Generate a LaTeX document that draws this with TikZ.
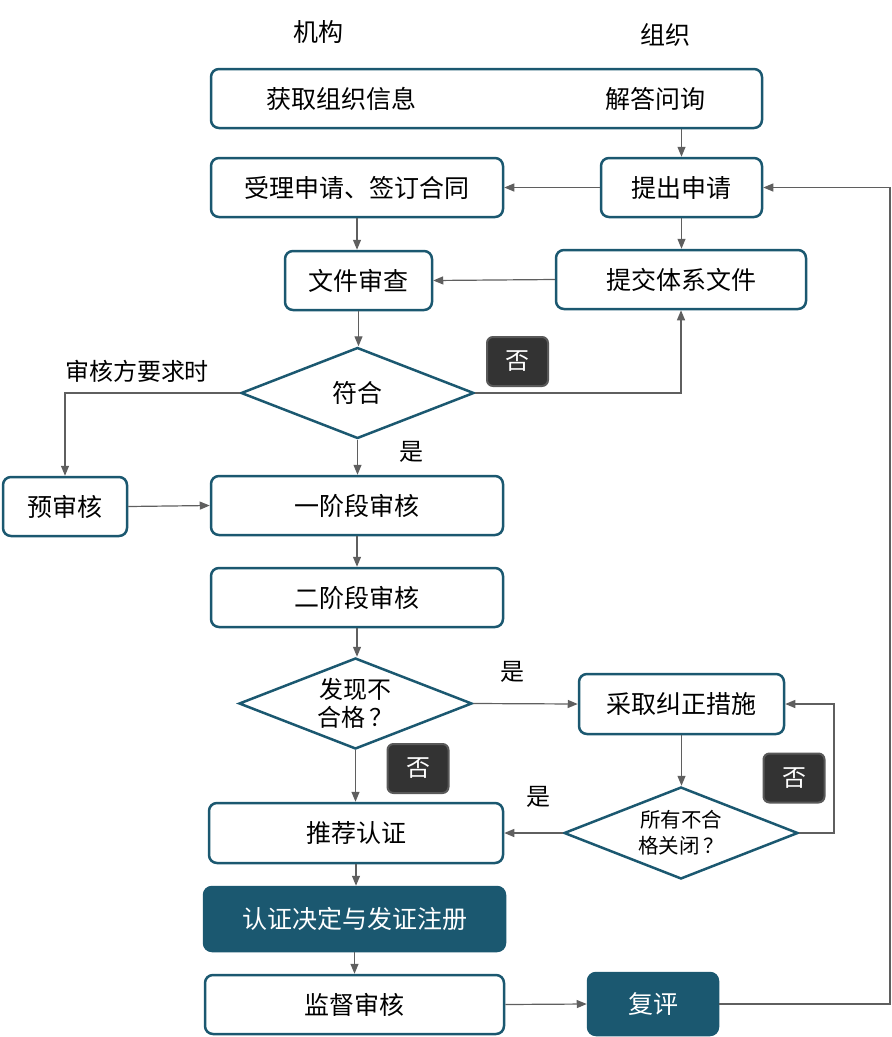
\documentclass[tikz,border=0pt]{standalone}
\usepackage{fontspec}
\setmainfont{Noto Sans CJK SC}
\usetikzlibrary{shapes.geometric,arrows.meta}
\definecolor{bd}{HTML}{1B5870}
\definecolor{ln}{HTML}{5F5F5F}
\definecolor{bgdark}{HTML}{333333}
\definecolor{bgedge}{HTML}{595959}
\begin{document}
\begin{tikzpicture}[x=1pt,y=-1pt,
  box/.style={draw=bd, line width=2.5pt, rounded corners=8pt, fill=white, inner sep=0pt, font=\fontsize{25}{29}\selectfont},
  dbox/.style={box, fill=bd, text=white},
  dia/.style={diamond, shape aspect=2.5, draw=bd, line width=2.5pt, fill=white, inner sep=0pt, align=center, font=\fontsize{25}{29}\selectfont},
  badge/.style={draw=bgedge, fill=bgdark, rounded corners=6pt, line width=2pt, text=white, minimum width=61pt, minimum height=49pt, inner sep=0pt, font=\fontsize{24}{28}\selectfont},
  lbl/.style={inner sep=0pt, font=\fontsize{24}{28}\selectfont},
  txt/.style={inner sep=0pt, font=\fontsize{25}{29}\selectfont},
  arr/.style={draw=ln, line width=1.2pt, -{Triangle[length=10pt,width=8pt]}},
  ]
\useasboundingbox (0,0) rectangle (892,1037);
\node[lbl, font=\fontsize{25}{29}\selectfont] (jg) at (318,32) {机构};
\node[lbl, font=\fontsize{25}{29}\selectfont] (zz) at (665,35) {组织};
\node[box, minimum width=551pt, minimum height=59pt] (info) at (486.5,98.5) {};
\node[txt] (t1) at (341,99) {获取组织信息};
\node[txt] (t2) at (655,99) {解答问询};
\node[box, minimum width=292pt, minimum height=59pt] (accept) at (357,187.5) {受理申请、签订合同};
\node[box, minimum width=161pt, minimum height=59pt] (apply) at (681.5,187.5) {提出申请};
\node[box, minimum width=147pt, minimum height=59pt] (review) at (358.5,280.5) {文件审查};
\node[box, minimum width=250pt, minimum height=59pt] (submit) at (681,279.5) {提交体系文件};
\node[dia, minimum width=233pt, minimum height=91pt] (fit) at (357.5,393) {符合};
\node[badge] (no1) at (517.5,361.5) {否};
\node[lbl] (req) at (137,371) {审核方要求时};
\node[box, minimum width=124pt, minimum height=59pt] (pre) at (65,506.5) {预审核};
\node[lbl] (yes1) at (411,452) {是};
\node[box, minimum width=292pt, minimum height=59pt] (s1) at (357,505.5) {一阶段审核};
\node[box, minimum width=292pt, minimum height=59pt] (s2) at (357,597.5) {二阶段审核};
\node[dia, minimum width=233pt, minimum height=91pt, font=\fontsize{24}{28}\selectfont] (nc) at (355.5,703.5) {发现不\\合格\,？};
\node[lbl] (yes2) at (512,672) {是};
\node[box, minimum width=205pt, minimum height=60pt] (ca) at (681.5,704) {采取纠正措施};
\node[badge] (no2) at (418,768.5) {否};
\node[box, minimum width=294pt, minimum height=60pt] (rec) at (356,833) {推荐认证};
\node[dia, minimum width=234pt, minimum height=92pt, font=\fontsize{20.5}{26}\selectfont] (closed) at (681,833) {所有不合\\格关闭\,？};
\node[lbl] (yes3) at (538,797) {是};
\node[badge] (no3) at (794,778) {否};
\node[dbox, minimum width=301pt, minimum height=64pt] (dec) at (354.5,919) {认证决定与发证注册};
\node[box, minimum width=299pt, minimum height=59pt] (sup) at (354.5,1004.5) {监督审核};
\node[dbox, minimum width=130pt, minimum height=62pt] (re) at (653,1004) {复评};
\coordinate (c1) at (834,833);
\coordinate (c2) at (890,1004);
\draw[arr] (apply.north |- info.south) -- (apply.north);
\draw[arr] (apply.west) -- (accept.east);
\draw[arr] (accept.south) -- (accept.south |- review.north);
\draw[arr] (apply.south) -- (apply.south |- submit.north);
\draw[arr] (submit.west) -- (review.east);
\draw[arr] (review.south) -- (review.south |- fit.north);
\draw[arr] (fit.east) -| (submit.south);
\draw[arr] (fit.west) -| (pre.north);
\draw[arr] (pre.east) -- (s1.west);
\draw[arr] (fit.south) -- (fit.south |- s1.north);
\draw[arr] (s1.south) -- (s1.south |- s2.north);
\draw[arr] (s2.south) -- (s2.south |- nc.north);
\draw[arr] (nc.east) -- (ca.west);
\draw[arr] (nc.south) -- (nc.south |- rec.north);
\draw[arr] (ca.south) -- (ca.south |- closed.north);
\draw[arr] (closed.west) -- (rec.east);
\draw[arr] (closed.east) -- (c1) |- (ca.east);
\draw[arr] (rec.south) -- (rec.south |- dec.north);
\draw[arr] (dec.south) -- (dec.south |- sup.north);
\draw[arr] (sup.east) -- (re.west);
\draw[arr] (re.east) -- (c2) |- (apply.east);
\end{tikzpicture}
\end{document}
